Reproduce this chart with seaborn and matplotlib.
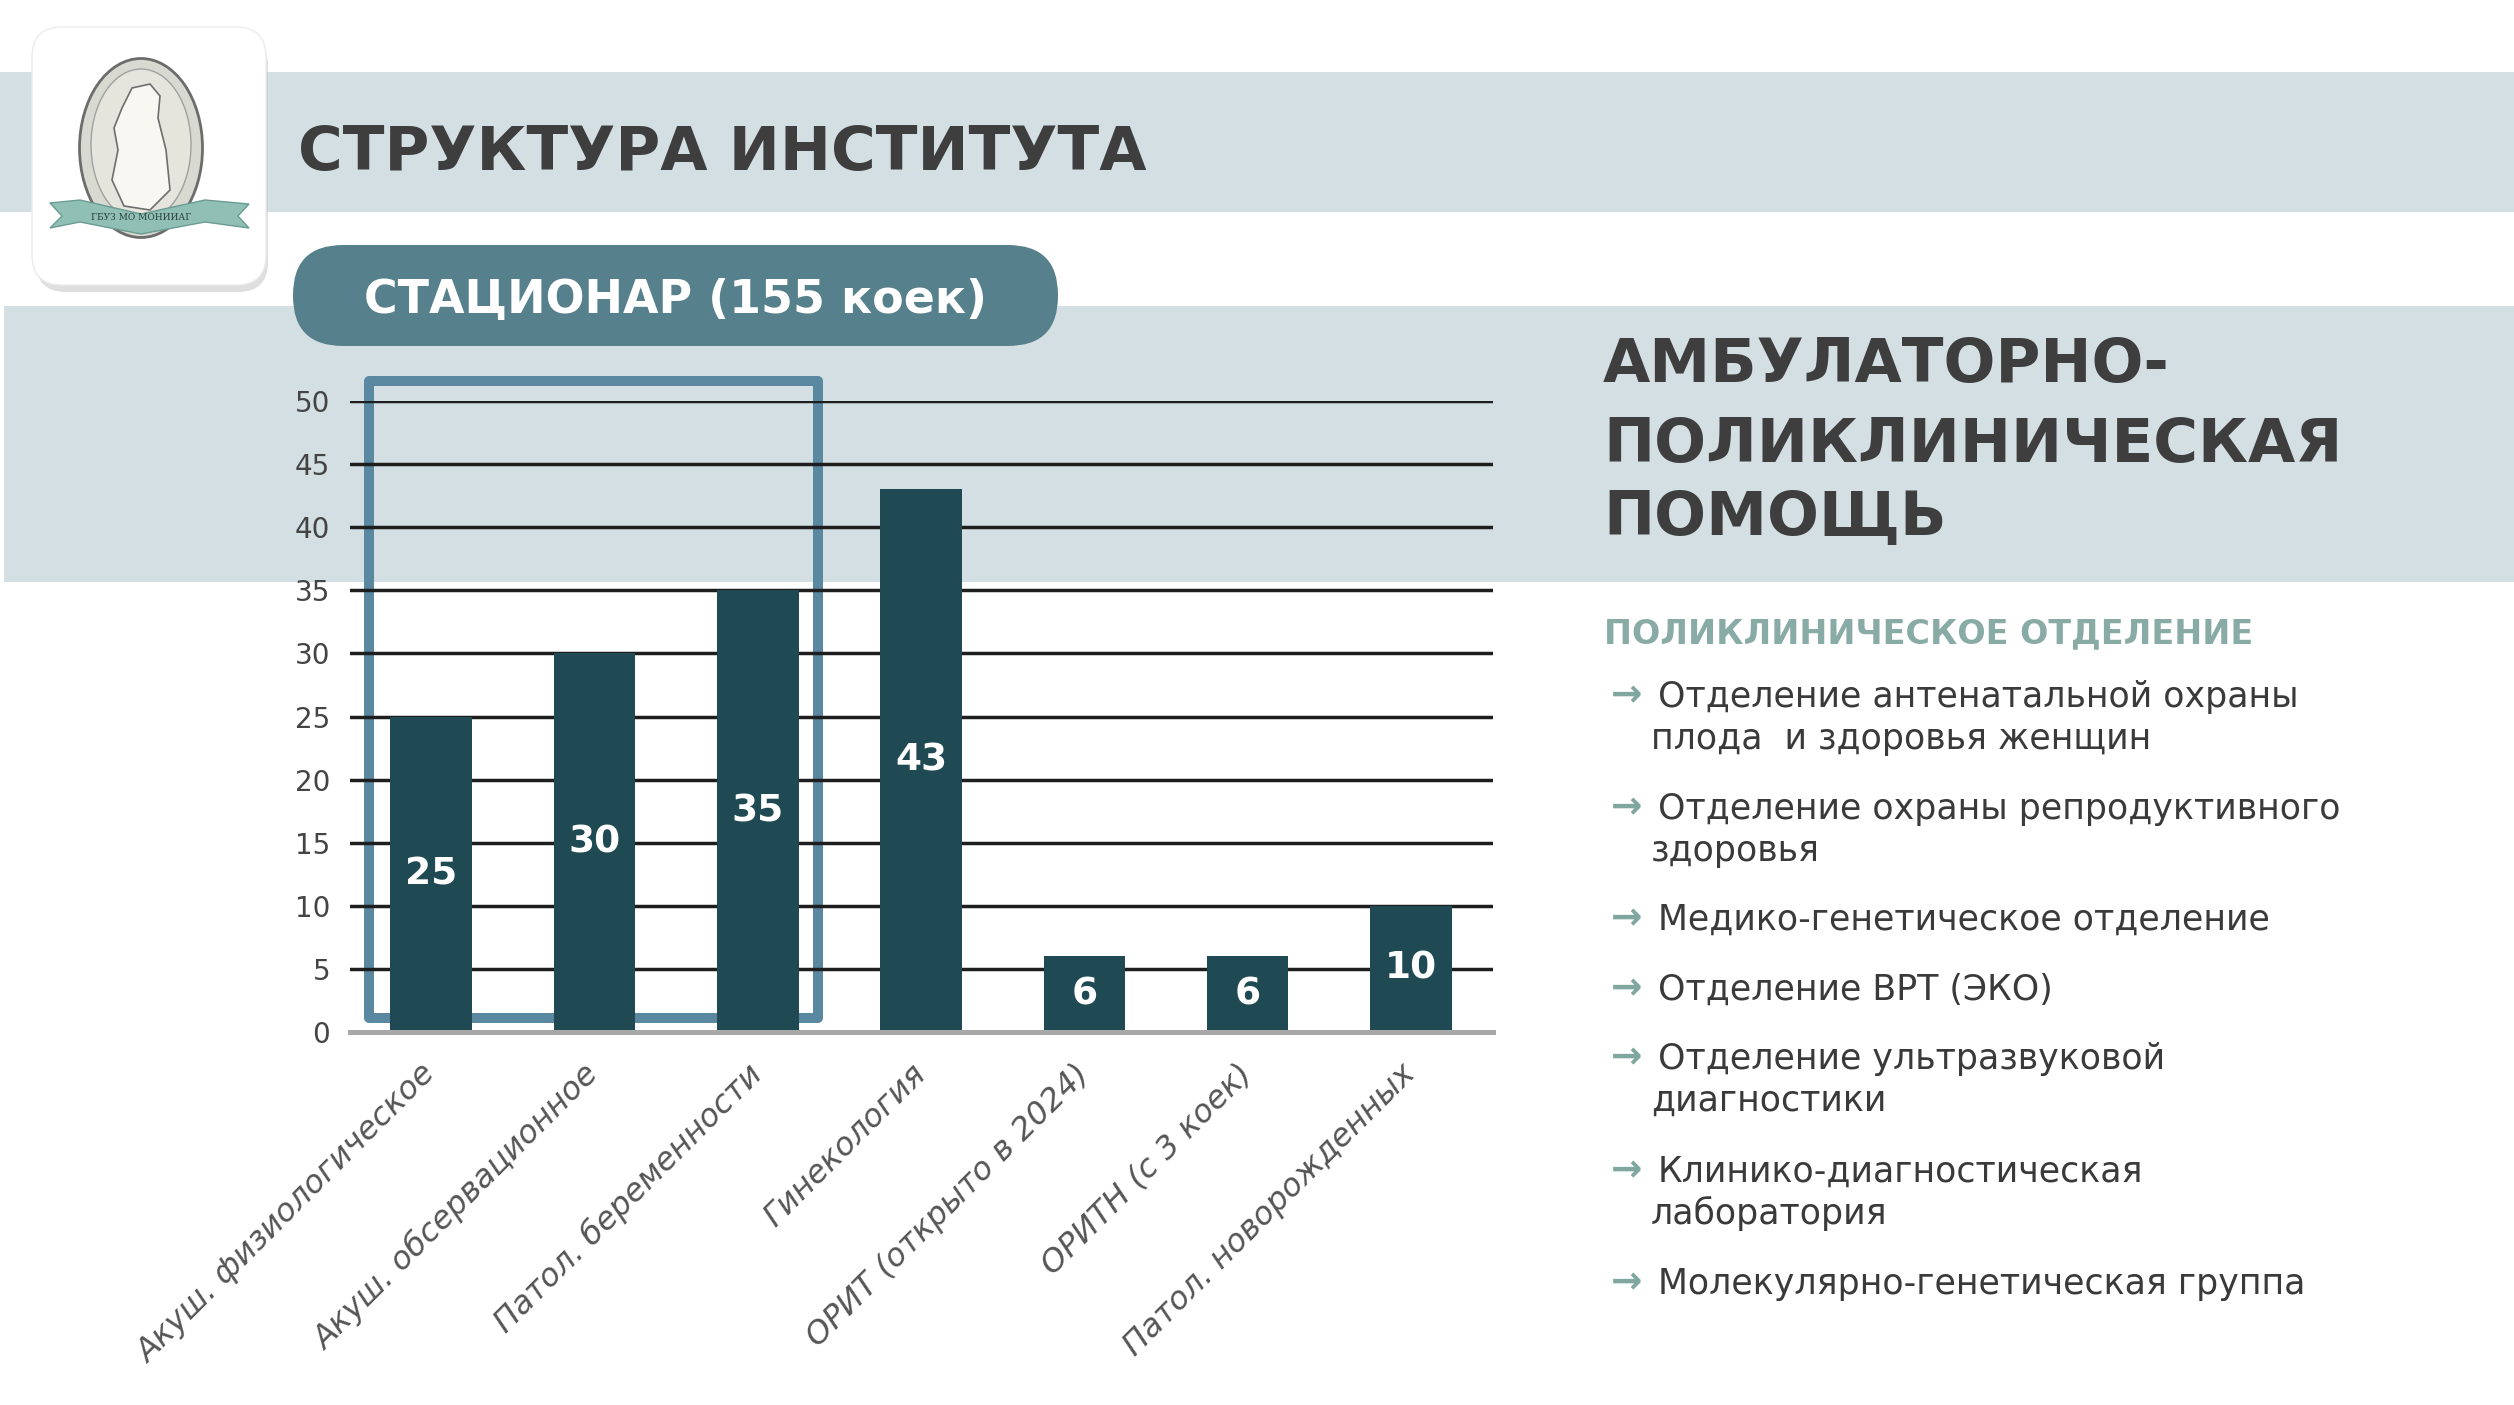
import matplotlib
matplotlib.use("Agg")
import matplotlib.pyplot as plt
from matplotlib.patches import Rectangle, FancyBboxPatch, Ellipse, Polygon
import seaborn as sns
import numpy as np

# ---- data ----
departments = ["Акуш. физиологическое", "Акуш. обсервационное", "Патол. беременности",
               "Гинекология", "ОРИТ (открыто в 2024)", "ОРИТН (с 3 коек)",
               "Патол. новорожденных"]
beds = [25, 30, 35, 43, 6, 6, 10]
y_ticks = [0, 5, 10, 15, 20, 25, 30, 35, 40, 45, 50]
framed = departments[:3]   # obstetric block, framed in blue

title = "СТРУКТУРА ИНСТИТУТА"
stationary = "СТАЦИОНАР (155 коек)"
outpatient = ["АМБУЛАТОРНО-", "ПОЛИКЛИНИЧЕСКАЯ", "ПОМОЩЬ"]
clinic_header = "ПОЛИКЛИНИЧЕСКОЕ ОТДЕЛЕНИЕ"
clinic_units = [
    ["Отделение антенатальной охраны", "плода  и здоровья женщин"],
    ["Отделение охраны репродуктивного", "здоровья"],
    ["Медико-генетическое отделение"],
    ["Отделение ВРТ (ЭКО)"],
    ["Отделение ультразвуковой", "диагностики"],
    ["Клинико-диагностическая", "лаборатория"],
    ["Молекулярно-генетическая группа"],
]

# colours
BAND = '#d4dfe3'
BAR = '#1f4a53'
PILL = '#56808b'
FRAME = '#5a88a1'
DARK = '#3e3e3e'
SAGE = '#89aba5'

sns.set_style("white")
plt.rcParams['font.family'] = ['DejaVu Sans']

W, H = 2514, 1405
fig = plt.figure(figsize=(W / 100, H / 100), dpi=100)
fig.patch.set_facecolor('white')

# background layer in pixel coordinates
bg = fig.add_axes([0, 0, 1, 1], zorder=0)
bg.set_xlim(0, W)
bg.set_ylim(H, 0)
bg.axis('off')

bg.add_patch(Rectangle((0, 72), W, 140, color=BAND, lw=0))
bg.add_patch(Rectangle((4, 306), W - 4, 276, color=BAND, lw=0))

# logo card
bg.add_patch(FancyBboxPatch((36, 36), 232, 256, boxstyle='round,pad=0,rounding_size=30',
                            fc='#c8c8c8', ec='none', alpha=0.6))
bg.add_patch(FancyBboxPatch((32, 27), 234, 258, boxstyle='round,pad=0,rounding_size=30',
                            fc='white', ec='#ececec', lw=1))
bg.add_patch(Ellipse((141, 148), 123, 179, fc='#d8dad2', ec='#6c6c6c', lw=2))
bg.add_patch(Ellipse((141, 145), 100, 152, fc='#e6e5dd', ec='#a0a0a0', lw=1))
# stylised figure silhouette
bg.add_patch(Polygon([(122, 108), (132, 88), (150, 84), (160, 96), (158, 118), (166, 150),
                      (170, 190), (150, 210), (124, 206), (112, 180), (118, 150), (114, 128)],
                     fc='#f8f7f2', ec='#6e6e6e', lw=1.2))
bg.add_patch(Polygon([(50, 203), (80, 200), (141, 214), (205, 200), (249, 204), (238, 216),
                      (249, 228), (205, 222), (141, 234), (80, 222), (50, 228), (62, 216)],
                     fc='#8fbfb5', ec='#6a9c93', lw=1))
bg.text(141, 218, 'ГБУЗ МО МОНИИАГ', fontsize=6.5, color='#2d3f3c', ha='center',
        va='center', family='DejaVu Serif')

# titles
bg.text(298, 170, title, fontsize=44, fontweight='bold', color=DARK, ha='left', va='baseline')
bg.add_patch(FancyBboxPatch((293, 245), 765, 101, boxstyle='round,pad=0,rounding_size=50',
                            fc=PILL, ec='none'))
bg.text(675, 313, stationary, fontsize=33, fontweight='bold', color='white',
        ha='center', va='baseline')

for line, base in zip(outpatient, [382, 462, 535]):
    bg.text(1603, base, line, fontsize=44, fontweight='bold', color=DARK, va='baseline')
bg.text(1604, 643, clinic_header, fontsize=24, fontweight='bold', color=SAGE, va='baseline')

first_rows = [694, 806, 917, 987, 1056, 1169, 1281]
for unit, yc in zip(clinic_units, first_rows):
    bg.text(1611, yc + 12, '→', fontsize=27, fontweight='bold', color='#7fa79f', va='baseline')
    bg.text(1658, yc + 13, unit[0], fontsize=25, color='#3a3a3a', va='baseline')
    for k, extra in enumerate(unit[1:], start=1):
        bg.text(1651, yc + 13 + 42 * k, extra, fontsize=25, color='#3a3a3a', va='baseline')

# ---- bar chart ----
left, right, y0, y50 = 349.5, 1492.6, 1032, 401
ax = fig.add_axes([left / W, 1 - y0 / H, (right - left) / W, (y0 - y50) / H], zorder=1)
ax.patch.set_alpha(0)

sns.barplot(x=departments, y=beds, color=BAR, saturation=1, width=0.5, ax=ax,
            linewidth=0, edgecolor='none')

ax.set_xlim(-0.5, len(departments) - 0.5)
ax.set_ylim(0, 50)
ax.set_yticks(y_ticks)
ax.yaxis.grid(True, color='#1e1e1e', lw=2.5)
ax.xaxis.grid(False)
ax.set_axisbelow(True)
ax.set_xlabel('')
ax.set_ylabel('')

for s in ['top', 'right', 'left']:
    ax.spines[s].set_visible(False)
ax.spines['bottom'].set_color('#a8a8a8')
ax.spines['bottom'].set_linewidth(3.6)

ax.set_xticks(np.arange(-0.5, len(departments), 1), minor=True)
ax.tick_params(axis='x', which='minor', length=9, width=3, color='#a8a8a8', direction='out')
ax.tick_params(axis='x', which='major', length=0, pad=27, labelsize=23, labelcolor='#555555')
ax.tick_params(axis='y', length=0, pad=14, labelsize=20, labelcolor='#444444')
for lab in ax.get_xticklabels():
    lab.set_rotation(45)
    lab.set_ha('right')
    lab.set_va('center')
    lab.set_rotation_mode('anchor')
    lab.set_style('italic')

ax.bar_label(ax.containers[0], labels=[str(v) for v in beds], label_type='center',
             color='white', fontsize=27, fontweight='bold')

# blue frame around the obstetric block
x_a = departments.index(framed[0]) - 0.38
x_b = departments.index(framed[-1]) + 0.37
ax.add_patch(Rectangle((x_a, 1.1), x_b - x_a, 50.5, fill=False, ec=FRAME, lw=7.2,
                       joinstyle='round', clip_on=False, zorder=0.4))

fig.savefig('out.png', dpi=100, facecolor='white')
